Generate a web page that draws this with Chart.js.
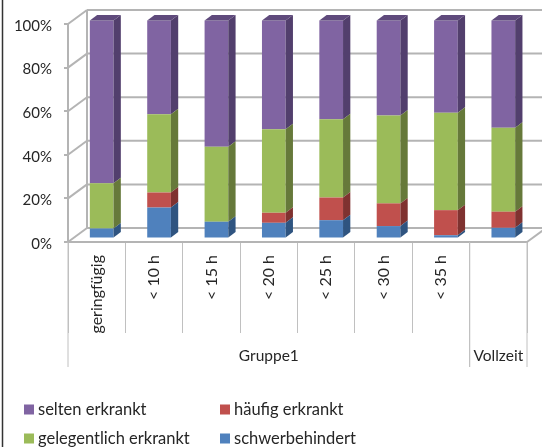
<!DOCTYPE html>
<html>
<head>
<meta charset="utf-8">
<title>Gruppe1 / Vollzeit</title>
<script src="https://cdn.jsdelivr.net/npm/chart.js@4"></script>
<style>
  html, body { margin: 0; padding: 0; background: #fff; }
  canvas { display: block; }
</style>
</head>
<body>
<canvas id="stackChart" width="542" height="447"></canvas>
<script>
// Data
const categories = ['geringfügig', '< 10 h', '< 15 h', '< 20 h', '< 25 h', '< 30 h', '< 35 h', ''];
const schwerbehindert = [4.6, 14.2, 7.7, 7.2, 8.4, 5.7, 1.5, 4.9];
const haeufig = [0, 6.9, 0, 4.6, 10.4, 10.4, 11.5, 7.4];
const gelegentlich = [20.7, 35.9, 34.4, 38.3, 35.9, 40.3, 44.7, 38.5];
const selten = [74.7, 43.0, 57.9, 49.9, 45.3, 43.6, 42.3, 49.2];
const groups = [['Gruppe1', 0, 6], ['Vollzeit', 7, 7]];
const yTicks = [0, 20, 40, 60, 80, 100];
const legendRows = [
  ['selten erkrankt', 'häufig erkrankt'],
  ['gelegentlich erkrankt', 'schwerbehindert']
];

const FONT = 'Lato, "Open Sans", sans-serif';
const TEXT = '#262626';
const AXIS = '#b4b4b4';

// Fake 3D: depth of the wall behind the axes, and of each column
const WALL_DX = 19, WALL_DY = 14;
const BAR_DX = 7.3, BAR_DY = 5.5;
const BAR_SHIFT_X = 5, BAR_SHIFT_Y = -3.5;

const sideColors = ['#2f5480', '#7f3230', '#66793a', '#523f6d'];

function line(ctx, x1, y1, x2, y2) {
  ctx.beginPath();
  ctx.moveTo(x1, y1);
  ctx.lineTo(x2, y2);
  ctx.stroke();
}

// Back wall, left wall and floor
const wallPlugin = {
  id: 'wall',
  beforeDatasetsDraw(chart) {
    const { ctx, chartArea, scales } = chart;
    ctx.save();
    ctx.strokeStyle = AXIS;
    ctx.lineWidth = 2;
    yTicks.forEach(v => {
      const y = scales.y.getPixelForValue(v);
      line(ctx, chartArea.left, y, chartArea.left + WALL_DX, y - WALL_DY);
      line(ctx, chartArea.left + WALL_DX, y - WALL_DY, chart.width, y - WALL_DY);
    });
    line(ctx, chartArea.left + WALL_DX, chartArea.top - WALL_DY, chartArea.left + WALL_DX, chartArea.bottom - WALL_DY);
    line(ctx, chartArea.right, chartArea.bottom, chartArea.right + WALL_DX, chartArea.bottom - WALL_DY);
    ctx.restore();
  }
};

// Columns sit a little behind the front plane, side faces are added per segment
const depthPlugin = {
  id: 'depth',
  beforeDatasetDraw(chart) {
    chart.ctx.save();
    chart.ctx.translate(BAR_SHIFT_X, BAR_SHIFT_Y);
  },
  afterDatasetDraw(chart, args) {
    const ctx = chart.ctx;
    args.meta.data.forEach(bar => {
      const p = bar.getProps(['x', 'y', 'base', 'width'], true);
      const right = p.x + p.width / 2;
      const left = p.x - p.width / 2;
      if (p.base - p.y < 0.5) return;
      ctx.fillStyle = sideColors[args.index];
      ctx.beginPath();
      ctx.moveTo(right, p.y);
      ctx.lineTo(right + BAR_DX, p.y - BAR_DY);
      ctx.lineTo(right + BAR_DX, p.base - BAR_DY);
      ctx.lineTo(right, p.base);
      ctx.closePath();
      ctx.fill();
      if (args.index === 3) {
        ctx.fillStyle = '#5f4a7c';
        ctx.beginPath();
        ctx.moveTo(left, p.y);
        ctx.lineTo(left + BAR_DX, p.y - BAR_DY);
        ctx.lineTo(right + BAR_DX, p.y - BAR_DY);
        ctx.lineTo(right, p.y);
        ctx.closePath();
        ctx.fill();
      }
    });
    ctx.restore();
  }
};

// Second label level under the categories
const groupPlugin = {
  id: 'groupLabels',
  afterDraw(chart) {
    const { ctx, scales } = chart;
    const x = scales.x;
    const half = (x.getPixelForValue(1) - x.getPixelForValue(0)) / 2;
    const top = chart.chartArea.bottom, sep = 367, labelY = 356;
    ctx.save();
    ctx.strokeStyle = '#c0c0c0';
    ctx.lineWidth = 1;
    ctx.fillStyle = TEXT;
    ctx.font = '15.5px ' + FONT;
    ctx.textAlign = 'center';
    ctx.textBaseline = 'middle';
    groups.forEach(([name, from, to]) => {
      const a = x.getPixelForValue(from) - half;
      const b = x.getPixelForValue(to) + half;
      line(ctx, a, top, a, sep);
      line(ctx, b, top, b, sep);
      ctx.fillText(name, (a + b) / 2, labelY);
    });
    ctx.restore();
  }
};

// Two column legend and the frame line on the left
const legendPlugin = {
  id: 'twoColumnLegend',
  afterDraw(chart) {
    const ctx = chart.ctx;
    const colX = [24, 220], rowY = [409.5, 438.5];
    const swatch = { 'selten erkrankt': '#8064a2', 'häufig erkrankt': '#c0504d', 'gelegentlich erkrankt': '#9bbb59', 'schwerbehindert': '#4f81bd' };
    ctx.save();
    ctx.font = '16.5px ' + FONT;
    ctx.textBaseline = 'middle';
    legendRows.forEach((row, r) => {
      row.forEach((name, c) => {
        ctx.fillStyle = swatch[name];
        ctx.fillRect(colX[c], rowY[r] - 5, 10, 10);
        ctx.fillStyle = TEXT;
        ctx.fillText(name, colX[c] + 14, rowY[r]);
      });
    });
    ctx.strokeStyle = '#333';
    ctx.lineWidth = 1.5;
    line(ctx, 2.5, 0, 2.5, chart.height);
    ctx.restore();
  }
};

function makeDataset(label, data, color) {
  return { label, data, backgroundColor: color, clip: false, barPercentage: 0.413, categoryPercentage: 1 };
}

new Chart(document.getElementById('stackChart').getContext('2d'), {
  type: 'bar',
  data: {
    labels: categories,
    datasets: [
      makeDataset('schwerbehindert', schwerbehindert, '#4f81bd'),
      makeDataset('häufig erkrankt', haeufig, '#c0504d'),
      makeDataset('gelegentlich erkrankt', gelegentlich, '#9bbb59'),
      makeDataset('selten erkrankt', selten, '#8064a2')
    ]
  },
  options: {
    responsive: false,
    animation: false,
    layout: { padding: { top: 24, right: 15, left: 0, bottom: 0 } },
    plugins: {
      legend: { display: false },
      tooltip: { enabled: false }
    },
    scales: {
      x: {
        stacked: true,
        afterFit: s => { s.height = 205; },
        border: { color: AXIS, width: 2 },
        grid: { drawOnChartArea: false, tickLength: 91, color: '#c0c0c0', lineWidth: 1 },
        ticks: {
          color: TEXT,
          font: { family: FONT, size: 16 },
          minRotation: 90,
          maxRotation: 90,
          autoSkip: false,
          padding: -78
        }
      },
      y: {
        stacked: true,
        min: 0,
        max: 100,
        afterFit: s => { s.width = 68; },
        border: { color: AXIS, width: 2 },
        grid: { drawOnChartArea: false, tickLength: 4, color: AXIS, lineWidth: 2 },
        ticks: {
          stepSize: 20,
          color: TEXT,
          font: { family: FONT, size: 15 },
          padding: 12,
          labelOffset: 2,
          callback: v => v + '%'
        }
      }
    }
  },
  plugins: [wallPlugin, depthPlugin, groupPlugin, legendPlugin]
});
</script>
</body>
</html>
